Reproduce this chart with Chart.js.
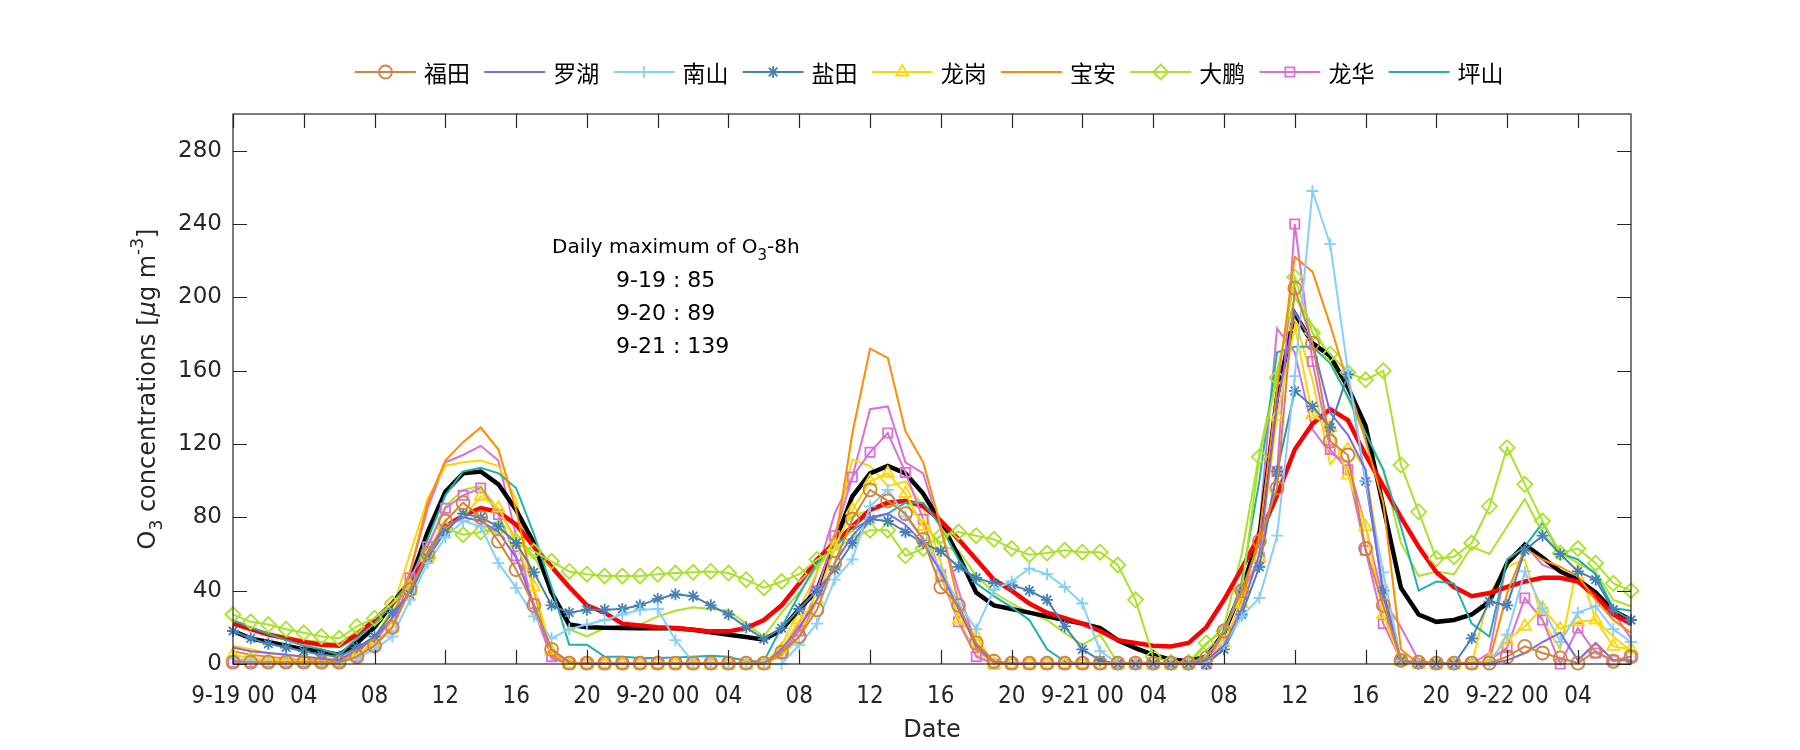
<!DOCTYPE html>
<html>
<head>
<meta charset="utf-8">
<script src="https://cdn.jsdelivr.net/npm/chart.js@4.4.1/dist/chart.umd.min.js"></script>
<style>
  html, body { margin: 0; padding: 0; background: #fff; }
  #chart { display: block; }
</style>
</head>
<body>
<canvas id="chart" width="1800" height="750"></canvas>
<script>
// hourly values, 9-19 00 .. 9-22 07
const hours = [...Array(80).keys()];
const xTickHours = [0,4,8,12,16,20,24,28,32,36,40,44,48,52,56,60,64,68,72,76];
const xTickLabels = ["9-19 00","04","08","12","16","20","9-20 00","04","08","12","16","20","9-21 00","04","08","12","16","20","9-22 00","04"];
const yTickValues = [0,40,80,120,160,200,240,280];

const futian = [1,1,1,1,1,1,1, 4,10,20,40.5,60.5,78,88,80,67,51.5,32,8,0.5, 0.5,0.5,0.5,0.5,0.5,0.5,0.5,0.5,0.5,0.5,0.5, 6.4,15,29.6,55,79,95,89,82,68,42,32,11.5,1.5, 0.5,0.5,0.5,0.5,0.5,0.5,0.5,0.5,0.5,0.5,0.5, 3.3,18,40,67,96,205,175,121.5,114,63,32,2,1, 0.5,0.5,0.5,0.5,4,9.6,6,3.3,0.5,7,1.5,4];
const luohu = [9,7,6,5,4,3,2, 8,14,25,40,60,75,80,78,72,58,32,8,1, 0,0,0,0,0,0,0,0,0,0,0, 8,20,35,55,70,80,82,76,66,50,30,10,1, 0,0,0,0,0,0,0,0,0,0,0, 2,10,30,60,142,192,175,137,125,106,37,2,0, 0,0,0,0,2,6,12,17,2,11.5,2,2];
const nanshan = [3,2,1,1,1,1,1, 3,8,15,35,55,69,78,75,55,41.5,26,14,19, 21.5,24,27,29.6,30,13,1,0,0,0,0, 0,10.5,22,46,57,86,95,80.5,68,51.5,33,19,40.5, 45,52,49,42,33,7,0.5,0,0,0,0, 1.5,10,26,36,70,157,258,229,160,100,50,2,0, 0,0,0,0,16,50.5,30.5,12,28,31.5,19,12];
const yantian = [18,14,11,9,7,5,4, 9,15,28,38,58,72,82,80,75,66,50,32,28, 29.6,29.6,30,32,35.5,38,37,32,27,20,13.6, 19.6,30,40,51.5,66,79,78,72,66,61.5,53,47,44, 43,40,35,20.5,8,2,0,0,0,0,0, 0,8,27,53,105,149,140.5,129,158,99.6,40,2,0, 0,0,14,34,32,62,70,60,50.5,46,29.6,24];
const longgang = [5,3,2,2,1.5,1,1, 5,12,20,40,58,75,80,91.5,85,66,42,7,0, 0,0,0,0,0,0,0,0,0,0,0, 8,24,35,64,84,99.6,104,93,75,49,24,15,0, 0,0,0,0,0,0,0,0,0,0,0, 1.5,11.5,33,58,135,184,136,129,103,75,27,1.5,0, 0,0,0,2,13,20.5,30.5,19,23,24,9.6,8];
const baoan = [7,5,4,3,2,2,2, 6,15,25,50,88,111,121,129,117,84,40,5,0, 0,0,0,0,0,0,0,0,0,0,0, 5,15,35,64,126,172,167,127,110,75,33,8,0.5, 0,0,0,0,0,0,0,0,0,0,0, 0,10,35,70,150,222,214,185,153,122,88,8,0, 0,0,0,2,38.7,63,57,53,48,35,24,17];
const dapeng = [27,23,21.5,19,17,15,14, 20.5,25,33,42,58,74,70.5,72,74,67,61.5,56,50.5, 49,48,48,48,49,49.6,50,50.5,49.6,46,41.5, 45,49,57,62,69,73,73,59,63,70,72,70,68, 63,59.6,60.5,62,61,61,54,35,4,1,1, 11.5,18,40,113,156,211,180.5,169,159,155,160,108.5,83, 57.5,58.5,66,86,118,98,78,60.5,63,55,44,40];
const longhua = [1,1,1,1,1,1,1, 4,10,20,47,64,85,92,96,81.5,59,33,4,0, 0,0,0,0,0,0,0,0,0,0,0, 6,18,40,70,102,115.5,126,104.5,79,48,23,4,0, 0,0,0,0,0,0,0,0,0,0,0, 0,18,38,58,105,240,165,117,106,62,22,2,0.5, 0,0,0,2,9,36,24,0,19.6,6,2,4];
const pingshan = [24,20,16.5,13,10,8,5, 14,22,33,45,68,92,105,107,104,96,71,42,10.5, 10.5,4,4,3.3,3.3,3.6,4,4.5,4,1.5,1.5, 20,38,55,64,73,79,82,88,88,75,57,44,37, 31,24,8,1.5,0,0,0,0,0,0,0, 5,15,45,100,170,173,173,164,146,126,106,75,40, 45,44,22,15,57,64,77,60.5,57,49,30.5,29];
// second monitoring line of the same district, no markers
const longgang2 = [10,8,6,5,4,3,2, 6,15,30,60,90,108,110,111,108,90,40,5,0, 0,0,0,0,0,0,0,0,0,0,0, 10,30,50,70,111.5,108,97,99.6,86,55,25,5,0, 0,0,0,0,0,0,0,0,0,0,0, 0,15,40,70,150,188,155,109,120.5,106,48,2,0, 0,0,0,38.7,53,57,24,8,55,24,15,7];
const dapeng2 = [22,19,17,15,13,12,11, 18,24,33,45,65,86,95,97,84,68,59,40,19, 15,19.6,21,21.5,26,29,31,30,29,22,15, 28,39,53,71,80.5,84,87,88,77,64,62,48,39, 33,28,24,17,10.5,16,0.5,0,0,0,0, 10.5,20.5,60,115,160,200,185,166,145,124,106,66,48, 50.5,49,64,60,75,90,71.5,60.5,55,50,35,31.5];
const longhua2 = [2,2,1,1,1,1,1, 5,12,25,50,85,110,114,119,111,70,30,3,0, 0,0,0,0,0,0,0,0,0,0,0, 8,22,50,82,102,139,140.5,110,104,73,40,10,0, 0,0,0,0,0,0,0,0,0,0,0, 0,15,40,75,183,170,128,115,110,75,35,20,2, 0,0,0,6,57,65,54,50.5,46,38,28,14];
const cityMean = [18,14,12,10,8,7,5, 11.5,20,33,45,72,94,104,105,98,84,66,39,21.5, 20,19.8,19.6,19.5,19.5,19.5,18.7,17.3,16,14.7,13.3, 18.7,30,40,66,91.5,104,108,104,93,77,59,39,32, 30,28,26,24,22,19.6,13,8.7,5,2.4,1.5, 4,17,40.5,70,146,191,175,168,151,130,86,41.5,27, 23,24,27,34,55,65,58,50.5,46,39,29,24];
const o3_8h = [22,19,16,14,12,10.5,10, 16,24,33,43,60,75,81,85,83,76,64,53,42, 32,28,22,21,20,19.6,18.7,17.8,17.8,19.6,24, 32,44,57,66,75,84,88,89,86,78,68,57,46, 40,33,28,25,22,18,13,11.5,10,9.6,11.5, 20,35,52,70,92,117,131,139,133,114,97,80,64, 50,42,37,38.7,42,45,47,47,45,37,27,22];

const dailyMax = ["9-19 : 85", "9-20 : 89", "9-21 : 139"];

const AXIS = "#262626";
const TICK_FONT = "'DejaVu Sans', sans-serif";
const XTICK_FONT = "'Liberation Sans Narrow', 'DejaVu Sans Condensed', 'Liberation Sans', sans-serif";
const TEXT_FONT = "'DejaVu Sans', sans-serif";

function stationLine(label, data, color, pointStyle, radius, order) {
  return {
    label, data,
    borderColor: color,
    backgroundColor: color,
    borderWidth: 2,
    pointStyle: pointStyle || false,
    pointRadius: pointStyle ? radius : 0,
    pointBorderWidth: 1.8,
    pointBorderColor: color,
    pointBackgroundColor: "rgba(0,0,0,0)",
    order,
    clip: false,
  };
}

const legendSeries = [
  stationLine("福田", futian, "#CD853F", "circle", 6.5, 1),
  stationLine("罗湖", luohu, "#7B68EE", null, 0, 2),
  stationLine("南山", nanshan, "#87CEFA", "cross", 6, 2),
  stationLine("盐田", yantian, "#4682B4", "star", 6, 2),
  stationLine("龙岗", longgang, "#FFD700", "triangle", 7, 2),
  stationLine("宝安", baoan, "#FF8C00", null, 0, 2),
  stationLine("大鹏", dapeng, "#A8E22A", "rectRot", 7.5, 2),
  stationLine("龙华", longhua, "#DA70D6", "rect", 6.5, 2),
  stationLine("坪山", pingshan, "#20B2AA", null, 0, 2),
];

const datasets = [
  ...legendSeries,
  stationLine("", longgang2, "#FFD700", null, 0, 4),
  stationLine("", dapeng2, "#A8E22A", null, 0, 4),
  stationLine("", longhua2, "#DA70D6", null, 0, 4),
  { label: "", data: o3_8h, borderColor: "#FF0000", borderWidth: 4.5, pointRadius: 0, order: 3, clip: false },
  { label: "", data: cityMean, borderColor: "#000000", borderWidth: 4.5, pointRadius: 0, order: 3, clip: false },
];

function markerPath(ctx, style, x, y, r) {
  ctx.beginPath();
  if (style === "circle") {
    ctx.arc(x, y, r, 0, Math.PI * 2);
  } else if (style === "cross") {
    ctx.moveTo(x - r, y); ctx.lineTo(x + r, y);
    ctx.moveTo(x, y - r); ctx.lineTo(x, y + r);
  } else if (style === "star") {
    ctx.moveTo(x - r, y); ctx.lineTo(x + r, y);
    ctx.moveTo(x, y - r); ctx.lineTo(x, y + r);
    const d = r * Math.SQRT1_2;
    ctx.moveTo(x - d, y - d); ctx.lineTo(x + d, y + d);
    ctx.moveTo(x - d, y + d); ctx.lineTo(x + d, y - d);
  } else if (style === "triangle") {
    for (let k = 0; k < 3; k++) {
      const a = k * 2 * Math.PI / 3;
      const px = x + Math.sin(a) * r, py = y - Math.cos(a) * r;
      if (k === 0) ctx.moveTo(px, py); else ctx.lineTo(px, py);
    }
    ctx.closePath();
  } else if (style === "rectRot") {
    ctx.moveTo(x, y - r); ctx.lineTo(x + r, y); ctx.lineTo(x, y + r); ctx.lineTo(x - r, y);
    ctx.closePath();
  } else if (style === "rect") {
    const s = r * Math.SQRT1_2;
    ctx.rect(x - s, y - s, 2 * s, 2 * s);
  }
  ctx.stroke();
}

// draws a run of text pieces (with sub/superscripts) starting at x
function richText(ctx, parts, x, y, align) {
  const widths = parts.map(p => { ctx.font = p.font; return ctx.measureText(p.t).width; });
  const total = widths.reduce((a, b) => a + b, 0);
  let cx = align === "center" ? x - total / 2 : x;
  parts.forEach((p, i) => {
    ctx.font = p.font;
    ctx.fillText(p.t, cx, y + (p.dy || 0));
    cx += widths[i];
  });
}

const decorations = {
  id: "decorations",
  afterDraw(chart) {
    const { ctx, chartArea: a, scales: { x, y } } = chart;
    ctx.save();
    // axes box with inward ticks on all four sides
    ctx.strokeStyle = AXIS;
    ctx.lineWidth = 1.2;
    ctx.strokeRect(a.left, a.top, a.right - a.left, a.bottom - a.top);
    const tl = 14;
    ctx.beginPath();
    xTickHours.forEach(h => {
      const px = Math.round(x.getPixelForValue(h)) + 0.5;
      ctx.moveTo(px, a.bottom); ctx.lineTo(px, a.bottom - tl);
      ctx.moveTo(px, a.top); ctx.lineTo(px, a.top + tl);
    });
    yTickValues.forEach(v => {
      const py = Math.round(y.getPixelForValue(v)) + 0.5;
      ctx.moveTo(a.left, py); ctx.lineTo(a.left + tl, py);
      ctx.moveTo(a.right, py); ctx.lineTo(a.right - tl, py);
    });
    ctx.stroke();

    ctx.fillStyle = AXIS;
    ctx.textBaseline = "middle";
    ctx.textAlign = "left";
    // x title
    richText(ctx, [{ t: "Date", font: `24px ${TEXT_FONT}` }], (a.left + a.right) / 2, 731, "center");

    // y title, rotated
    ctx.save();
    ctx.translate(149, (a.top + a.bottom) / 2);
    ctx.rotate(-Math.PI / 2);
    richText(ctx, [
      { t: "O", font: `24px ${TEXT_FONT}` },
      { t: "3", font: `17px ${TEXT_FONT}`, dy: 9 },
      { t: " concentrations [", font: `24px ${TEXT_FONT}` },
      { t: "μ", font: `italic 24px ${TEXT_FONT}` },
      { t: "g m", font: `24px ${TEXT_FONT}` },
      { t: "-3", font: `17px ${TEXT_FONT}`, dy: -10 },
      { t: "]", font: `24px ${TEXT_FONT}` },
    ], 0, 0, "center");
    ctx.restore();

    // daily maximum note
    ctx.fillStyle = "#000";
    richText(ctx, [
      { t: "Daily maximum of O", font: `20px ${TEXT_FONT}` },
      { t: "3", font: `15px ${TEXT_FONT}`, dy: 8 },
      { t: "-8h", font: `20px ${TEXT_FONT}` },
    ], 552, 248, "left");
    dailyMax.forEach((line, i) => {
      richText(ctx, [{ t: line, font: `22px ${TEXT_FONT}` }], 616, 281 + i * 33, "left");
    });

    // legend, one row above the axes
    const ly = 72;
    legendSeries.forEach((ds, i) => {
      const x0 = 355 + i * 129.2;
      ctx.strokeStyle = ds.borderColor;
      ctx.lineWidth = 2;
      ctx.beginPath(); ctx.moveTo(x0, ly); ctx.lineTo(x0 + 61, ly); ctx.stroke();
      if (ds.pointStyle) {
        ctx.lineWidth = 1.8;
        markerPath(ctx, ds.pointStyle, x0 + 30.5, ly, ds.pointRadius);
      }
      ctx.fillStyle = "#000";
      ctx.font = `23px 'Noto Sans CJK SC', sans-serif`;
      ctx.fillText(ds.label, x0 + 69, ly + 1);
    });
    ctx.restore();
  },
};

new Chart(document.getElementById("chart"), {
  type: "line",
  data: { labels: hours, datasets },
  options: {
    responsive: false,
    animation: false,
    devicePixelRatio: 1,
    layout: { padding: { top: 114, right: 169, left: 0, bottom: 0 } },
    elements: { line: { tension: 0 } },
    plugins: { legend: { display: false }, tooltip: { enabled: false } },
    scales: {
      x: {
        type: "linear", min: 0, max: 79,
        grid: { display: false, drawTicks: false },
        border: { display: false },
        afterBuildTicks: (s) => { s.ticks = xTickHours.map(v => ({ value: v })); },
        afterFit: (s) => { s.height = 86; },
        ticks: {
          autoSkip: false, maxRotation: 0, padding: 18, color: AXIS,
          font: { family: XTICK_FONT, size: 24 },
          callback: (v, i) => xTickLabels[i],
        },
      },
      y: {
        min: 0, max: 300,
        grid: { display: false, drawTicks: false },
        border: { display: false },
        afterBuildTicks: (s) => { s.ticks = yTickValues.map(v => ({ value: v })); },
        afterFit: (s) => { s.width = 233; },
        ticks: { padding: 11, color: AXIS, font: { family: TICK_FONT, size: 23 } },
      },
    },
  },
  plugins: [decorations],
});
</script>
</body>
</html>
